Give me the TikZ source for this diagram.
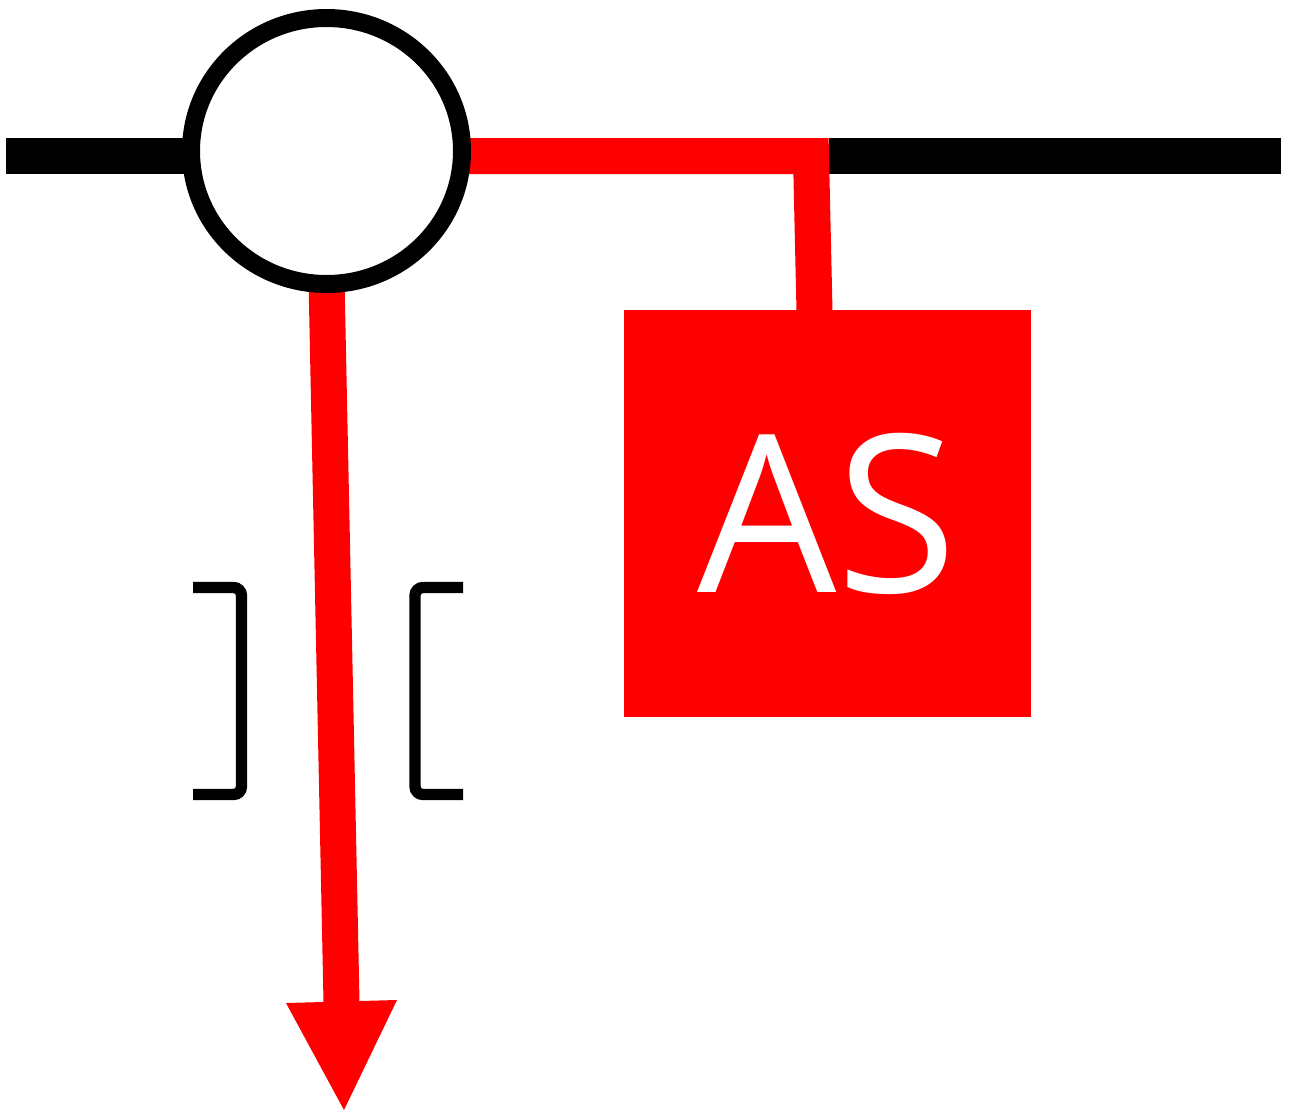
\documentclass[tikz,border=0pt]{standalone}
\usepackage{fontspec}
\setmainfont{Open Sans}
\usetikzlibrary{shapes.geometric}
\begin{document}
\begin{tikzpicture}[x=0.75pt,y=-0.75pt,
  blackline/.style={black,line width=27pt},
  redline/.style={red,line width=27pt},
  bracket/.style={black,line width=8.5pt,rounded corners=6pt},
  hub/.style={ellipse,draw=black,fill=white,line width=13.5pt,inner sep=0pt,minimum width=203.25pt,minimum height=199.5pt},
  asbox/.style={fill=red,inner sep=0pt,minimum width=305.25pt,minimum height=305.25pt,text=white,font=\fontsize{165pt}{165pt}\selectfont}]
\fill[white] (0,0) rectangle (1289,1111);
\useasboundingbox (0,0) rectangle (1289,1111);
\coordinate (cc) at (326.5,151);
\coordinate (lend) at (6,156);
\coordinate (lstop) at (326.5,156);
\coordinate (rstart) at (829,156);
\coordinate (rend) at (1281,156);
\coordinate (bend) at (811,156);
\coordinate (drop) at (814.5,311);
\coordinate (stop) at (326.5,280);
\coordinate (base) at (341.5,1002);
\coordinate (hl) at (286,1003);
\coordinate (hr) at (397,1000);
\coordinate (tip) at (344,1110);
% square
\node[asbox] (as) at (827.5,513.5) {AS};
% black bus lines
\draw[blackline] (lend) -- (lstop);
\draw[blackline] (rstart) -- (rend);
% red connector to AS
\draw[redline,line join=miter] (lstop) -- (bend) -- (drop);
% red arrow down
\draw[redline] (stop) -- (base);
\fill[red] (hl) -- (hr) -- (tip) -- cycle;
% hub circle
\node[hub] (c) at (cc) {};
% brackets
\draw[bracket] (193,587.5) -- (241.5,587.5) -- (241.5,794.5) -- (193,794.5);
\draw[bracket] (463,587.5) -- (415,587.5) -- (415,794.5) -- (463,794.5);
\end{tikzpicture}
\end{document}
